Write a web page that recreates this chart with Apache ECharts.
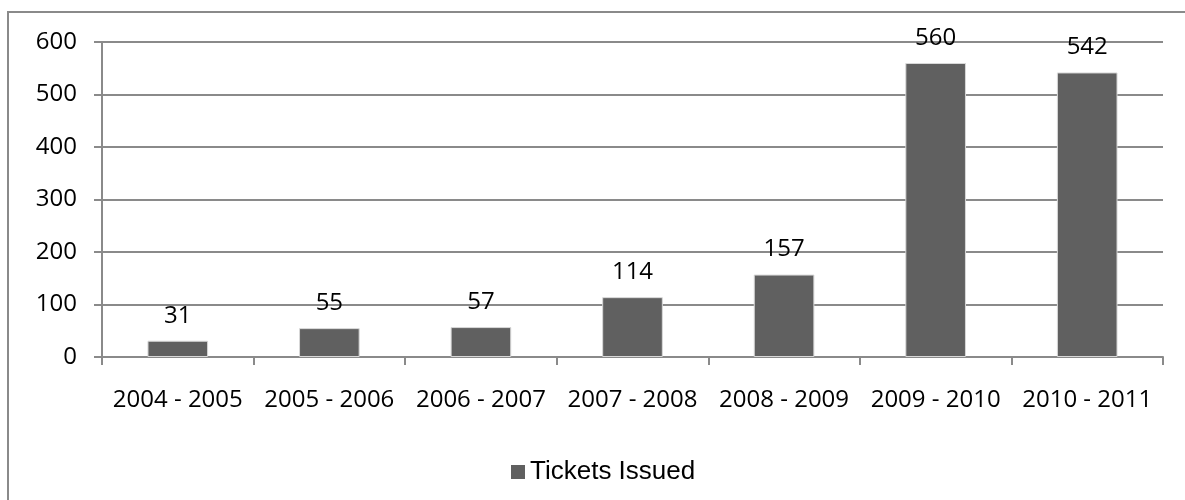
<!DOCTYPE html>
<html>
<head>
<meta charset="utf-8">
<script src="https://cdn.jsdelivr.net/npm/echarts@6/dist/echarts.min.js"></script>
<style>
  html, body { margin: 0; padding: 0; background: #fff; }
  #chart { width: 1185px; height: 500px; }
</style>
</head>
<body>
<div id="chart"></div>
<script>
// Tickets issued per fiscal year
const categories = ['2004 - 2005', '2005 - 2006', '2006 - 2007', '2007 - 2008', '2008 - 2009', '2009 - 2010', '2010 - 2011'];
const ticketsIssued = [31, 55, 57, 114, 157, 560, 542];
const seriesName = 'Tickets Issued';

const lineGray = '#8a8a8a';
const barGray = '#606060';
const labelFont = '"Open Sans", "DejaVu Sans", sans-serif';

const chart = echarts.init(document.getElementById('chart'), null, { renderer: 'canvas' });

chart.setOption({
  backgroundColor: '#ffffff',
  animation: false,
  graphic: [{
    type: 'rect',
    shape: { x: 8, y: 12, width: 1300, height: 700 },
    style: { fill: 'none', stroke: lineGray, lineWidth: 2 },
    silent: true,
    z: -1
  }],
  grid: { left: 102, right: 22, top: 42, bottom: 143, containLabel: false },
  legend: {
    data: [seriesName],
    left: 506,
    top: 454,
    itemWidth: 14,
    itemHeight: 14,
    icon: 'rect',
    itemStyle: { color: barGray, borderWidth: 0 },
    textStyle: { fontFamily: '"Liberation Sans", Arial, sans-serif', fontSize: 26, color: '#000' }
  },
  xAxis: {
    type: 'category',
    data: categories,
    axisLine: { show: true, lineStyle: { color: lineGray, width: 2 } },
    axisTick: { show: true, length: 8, lineStyle: { color: lineGray, width: 2 } },
    axisLabel: { fontFamily: labelFont, fontSize: 24, color: '#000', margin: 31, interval: 0 },
    splitLine: { show: false }
  },
  yAxis: {
    type: 'value',
    min: 0,
    max: 600,
    interval: 100,
    axisLine: { show: true, lineStyle: { color: lineGray, width: 2 } },
    axisTick: { show: true, length: 8, lineStyle: { color: lineGray, width: 2 } },
    axisLabel: { fontFamily: labelFont, fontSize: 24, color: '#000', margin: 25 },
    splitLine: { show: true, lineStyle: { color: lineGray, width: 2 } }
  },
  series: [{
    name: seriesName,
    type: 'bar',
    data: ticketsIssued,
    barCategoryGap: '60%',
    itemStyle: { color: barGray, borderColor: '#d8d8d8', borderWidth: 1 },
    label: {
      show: true,
      position: 'top',
      distance: 13,
      fontFamily: labelFont,
      fontSize: 24,
      color: '#000'
    }
  }]
});
</script>
</body>
</html>
